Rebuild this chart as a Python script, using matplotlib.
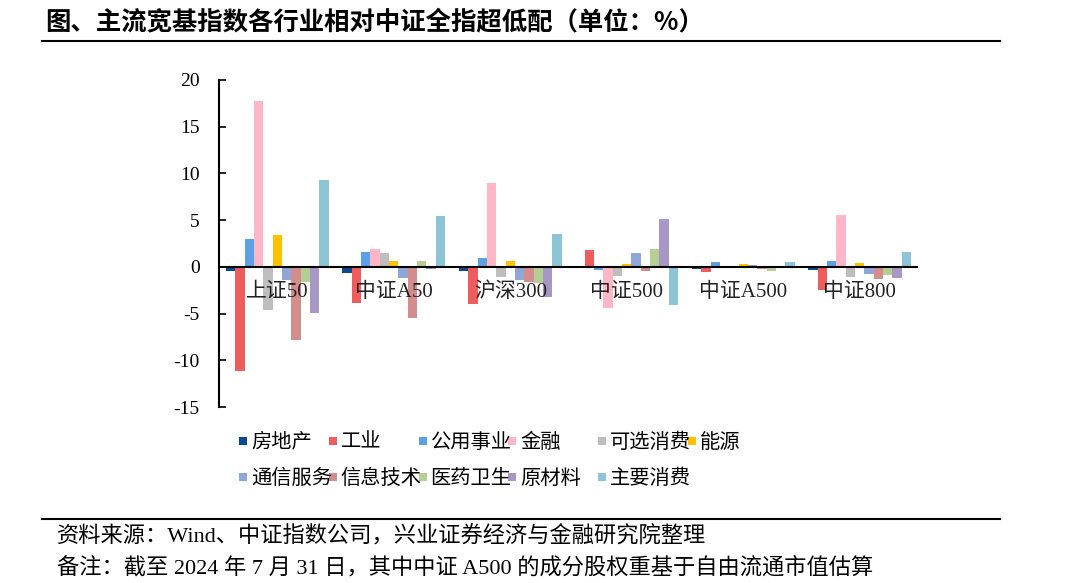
import matplotlib as mpl
mpl.use('Agg')
import matplotlib.pyplot as plt
from matplotlib.patches import Rectangle
import numpy as np

plt.rcParams['font.family'] = ['Liberation Serif', 'Noto Sans CJK SC']
plt.rcParams['axes.unicode_minus'] = False

indices = ['上证50', '中证A50', '沪深300', '中证500', '中证A500', '中证800']
sectors = ['房地产', '工业', '公用事业', '金融', '可选消费', '能源',
           '通信服务', '信息技术', '医药卫生', '原材料', '主要消费']
colors = ['#0B4A8F', '#EE5C5E', '#5EA0E4', '#FFB6C6', '#BEBEBE', '#FFC000',
          '#8FA6D6', '#D38D8D', '#B4CF93', '#A697C4', '#8DC4D6']

# rows = sectors, columns = indices
real_estate = [-0.45, -0.65, -0.40, -0.10, -0.20, -0.30]
industry = [-11.2, -3.85, -4.00, 1.85, -0.50, -2.50]
utilities = [2.95, 1.55, 0.95, -0.30, 0.55, 0.60]
finance = [17.8, 1.90, 8.95, -4.40, -0.05, 5.60]
cons_disc = [-4.60, 1.45, -1.05, -0.95, -0.05, -1.10]
energy = [3.40, 0.60, 0.65, 0.30, 0.30, 0.45]
telecom = [-1.45, -1.20, -1.45, 1.50, 0.20, -0.75]
info_tech = [-7.85, -5.50, -1.60, -0.45, -0.20, -1.35]
health = [-1.60, 0.60, -1.70, 1.95, -0.45, -0.85]
materials = [-4.90, -0.25, -3.20, 5.15, -0.05, -1.20]
cons_staples = [9.25, 5.40, 3.55, -4.10, 0.50, 1.60]

values = [real_estate, industry, utilities, finance, cons_disc, energy,
          telecom, info_tech, health, materials, cons_staples]

W, H = 1080, 583
fig = plt.figure(figsize=(W / 100, H / 100), dpi=100)
ax = fig.add_axes([219 / W, 1 - 407 / H, (918 - 219) / W, (407 - 80) / H])

x = np.arange(len(indices))
w = 0.08
for i, (name, vals, c) in enumerate(zip(sectors, values, colors)):
    off = (i - (len(sectors) - 1) / 2) * w
    ax.bar(x + off, vals, w, color=c, label=name, linewidth=0)

ax.set_xlim(-0.5, len(indices) - 0.5)
ax.set_ylim(-15, 20)
ax.set_yticks(range(-15, 21, 5))
ax.axhline(0, color='black', lw=1.5, zorder=5)
for s in ['top', 'right', 'bottom']:
    ax.spines[s].set_visible(False)
ax.spines['left'].set_linewidth(1.5)
ax.tick_params(axis='y', direction='in', length=5, width=1.2, labelsize=14, pad=14)
ax.set_xticks([])

# category labels just under the zero line
for xi, name in zip(x, indices):
    ax.text(xi, -1.7, name, ha='center', va='top', fontsize=15, color='#222222',
            zorder=6)

# legend: 6 equal-width columns, filled row by row (like the Excel original)
col_w, row_h = 89.8, 36
for i, (name, c) in enumerate(zip(sectors, colors)):
    r, k = divmod(i, 6)
    lx = 239 + k * col_w
    ly = 441 + r * row_h
    fig.add_artist(Rectangle((lx / W, 1 - (ly + 4) / H), 8 / W, 8 / H,
                             transform=fig.transFigure, color=c, lw=0))
    fig.text((lx + 12) / W, 1 - (ly + 2) / H, name, fontsize=14.6,
             va='center', ha='left')

fig.text(45 / W, 1 - 22 / H, '图、主流宽基指数各行业相对中证全指超低配（单位：%）',
         fontsize=18.3, fontweight='bold', va='center', ha='left',
         family=['Noto Sans CJK SC'])
fig.add_artist(plt.Line2D([42 / W, 1000 / W], [1 - 41 / H] * 2, color='black', lw=1.5))
fig.add_artist(plt.Line2D([42 / W, 1000 / W], [1 - 519 / H] * 2, color='black', lw=1.5))
fig.text(57 / W, 1 - 537 / H, '资料来源：Wind、中证指数公司，兴业证券经济与金融研究院整理',
         fontsize=16, va='center', ha='left')
fig.text(57 / W, 1 - 568 / H, '备注：截至 2024 年 7 月 31 日，其中中证 A500 的成分股权重基于自由流通市值估算',
         fontsize=16, va='center', ha='left')

fig.savefig('out.png', dpi=100)
